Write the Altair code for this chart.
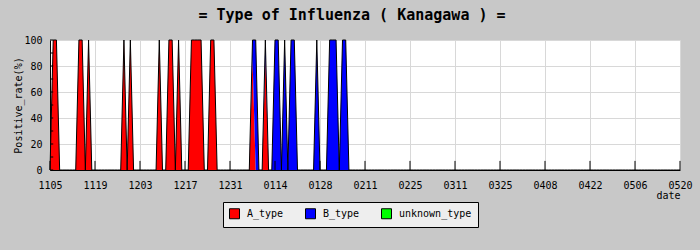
import altair as alt
import pandas as pd

# ---- data ----
start_date = "2012-11-05"
end_date = "2013-05-20"

types = ["A_type", "B_type", "unknown_type"]
type_colors = ["#ff0000", "#0000ff", "#00ff00"]

a_dates = ["2012-11-06", "2012-11-07", "2012-11-14", "2012-11-15", "2012-11-17",
           "2012-11-28", "2012-11-30", "2012-12-09", "2012-12-12", "2012-12-13",
           "2012-12-15", "2012-12-19", "2012-12-20", "2012-12-21", "2012-12-22",
           "2012-12-25", "2012-12-26", "2013-01-07", "2013-01-11"]
a_values = [100, 100, 100, 100, 100,
            100, 100, 100, 100, 100,
            100, 100, 100, 100, 100,
            100, 100, 87, 87]

b_dates = ["2013-01-07", "2013-01-08", "2013-01-11", "2013-01-14", "2013-01-15",
           "2013-01-17", "2013-01-19", "2013-01-20", "2013-01-27", "2013-01-31",
           "2013-02-01", "2013-02-02", "2013-02-04", "2013-02-05"]
b_values = [13, 100, 13, 100, 100,
            100, 100, 100, 100, 100,
            100, 100, 100, 100]

unknown_dates = []
unknown_values = []

tick_dates = ["2012-11-05", "2012-11-19", "2012-12-03", "2012-12-17", "2012-12-31",
              "2013-01-14", "2013-01-28", "2013-02-11", "2013-02-25", "2013-03-11",
              "2013-03-25", "2013-04-08", "2013-04-22", "2013-05-06", "2013-05-20"]

y_tick_levels = [0, 10, 20, 30, 40, 50, 60, 70, 80, 90, 100]
y_grid_values = [0, 20, 40, 60, 80, 100]

# ---- build table ----
all_days = [d.strftime("%Y-%m-%d") for d in pd.date_range(start_date, end_date, freq="D")]
series = {
    "A_type": dict(zip(a_dates, a_values)),
    "B_type": dict(zip(b_dates, b_values)),
    "unknown_type": dict(zip(unknown_dates, unknown_values)),
}
rows = []
for i, t in enumerate(types):
    for d in all_days:
        rows.append({"date": d, "type": t, "ord": i, "rate": series[t].get(d, 0)})
df = pd.DataFrame(rows)

ticks_df = pd.DataFrame({"date": tick_dates})
ytick_df = pd.DataFrame({"rate": y_tick_levels,
                         "date": [start_date] * len(y_tick_levels),
                         "date_end": ["2012-11-06"] * len(y_tick_levels)})

FONT = "DejaVu Sans Mono"

def dt(s):
    y, m, d = s.split("-")
    return alt.DateTime(year=int(y), month=int(m), date=int(d), utc=True)

x_scale = alt.Scale(type="utc", domain=[dt(start_date), dt(end_date)])
y_scale = alt.Scale(domain=[0, 100], nice=False)

x_axis = alt.Axis(values=[dt(s) for s in tick_dates], format="%m%d",
                  title="date", titleAnchor="end", titleAlign="right",
                  titlePadding=0, titleFont=FONT, titleFontSize=10,
                  titleFontWeight="normal", titleColor="black",
                  labelFont=FONT, labelFontSize=10, labelColor="black",
                  labelPadding=10, ticks=False, domainColor="black",
                  grid=True, gridColor="#d8d8d8", labelFlush=False,
                  labelOverlap=False)
y_axis = alt.Axis(values=y_grid_values, title="Positive_rate(%)",
                  titleFont=FONT, titleFontSize=10, titleFontWeight="normal",
                  titleColor="black", titlePadding=0,
                  labelFont=FONT, labelFontSize=10, labelColor="black",
                  labelPadding=8, ticks=False, domainColor="black",
                  grid=True, gridColor="#d8d8d8", labelOverlap=False)

area = alt.Chart(df).mark_area(
    interpolate="linear", opacity=1, strokeWidth=0
).encode(
    x=alt.X("date:T", scale=x_scale, axis=x_axis),
    y=alt.Y("rate:Q", stack="zero", scale=y_scale, axis=y_axis),
    color=alt.Color("type:N", scale=alt.Scale(domain=types, range=type_colors),
                    legend=alt.Legend(title=None, orient="none", legendX=173, legendY=162,
                                      direction="horizontal", symbolType="square",
                                      symbolSize=100, symbolStrokeColor="black",
                                      symbolStrokeWidth=1, symbolOpacity=1,
                                      fillColor="#eeeeee", strokeColor="black",
                                      padding=6, columnPadding=19, labelOffset=7,
                                      labelFont=FONT, labelFontSize=10,
                                      labelColor="black")),
    order=alt.Order("ord:Q"),
)

outline = alt.Chart(df).transform_aggregate(
    total="sum(rate)", groupby=["date"]
).mark_line(color="black", strokeWidth=1, interpolate="linear").encode(
    x=alt.X("date:T", scale=x_scale, axis=x_axis),
    y=alt.Y("total:Q", scale=y_scale, axis=y_axis),
)

xticks = alt.Chart(ticks_df).mark_rule(color="black", strokeWidth=1).encode(
    x=alt.X("date:T", scale=x_scale, axis=x_axis),
    y=alt.Y(datum=0, scale=y_scale, axis=y_axis),
    y2=alt.datum(7),
)

yticks = alt.Chart(ytick_df).mark_rule(color="black", strokeWidth=1).encode(
    y=alt.Y("rate:Q", scale=y_scale, axis=y_axis),
    x=alt.X("date:T", scale=x_scale, axis=x_axis),
    x2="date_end:T",
)

chart = alt.layer(area, outline, xticks, yticks).properties(
    width=630, height=130,
    autosize=alt.AutoSizeParams(type="none"),
    padding={"left": 50, "top": 40, "right": 20, "bottom": 80},
    title=alt.TitleParams("= Type of Influenza ( Kanagawa ) =", font=FONT, fontSize=15,
                          fontWeight="bold", color="black", anchor="middle",
                          dx=-13, offset=12),
).configure(background="#c8c8c8").configure_view(fill="white", strokeWidth=0)

chart.save("out.html", embed_options={"renderer": "svg", "actions": False})
